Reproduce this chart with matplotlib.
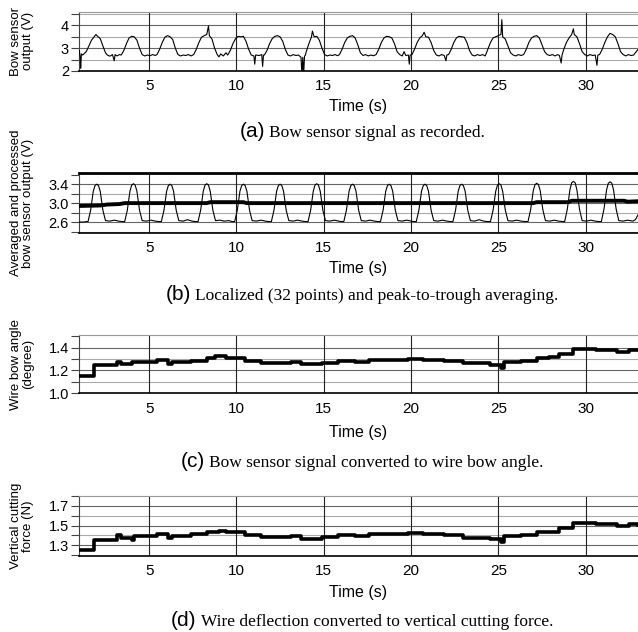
import matplotlib
matplotlib.use("Agg")
import matplotlib.pyplot as plt
from matplotlib import font_manager

# ---- data ----
# (a) raw bow sensor signal (V)
t_a = [1.00, 1.05, 1.08, 1.12, 1.20, 1.30, 1.40, 1.55, 1.70, 1.85, 1.95, 2.05, 2.20, 2.35, 2.50, 2.60,
       2.75, 2.90, 3.00, 3.05, 3.15, 3.30, 3.40,
       3.55, 3.70, 3.85, 4.00, 4.15, 4.30, 4.45, 4.60, 4.75, 4.90, 5.05, 5.20, 5.35, 5.45,
       5.60, 5.75, 5.90, 6.05, 6.20, 6.35, 6.50, 6.65, 6.80, 6.95, 7.10, 7.25, 7.40, 7.55,
       7.70, 7.85, 8.00, 8.15, 8.30, 8.40, 8.45, 8.60, 8.75, 8.90, 9.00, 9.10, 9.25, 9.40, 9.50,
       9.65, 9.80, 9.95, 10.10, 10.25, 10.40, 10.55, 10.70, 10.85, 11.00, 11.05, 11.10, 11.30, 11.45, 11.50, 11.55, 11.60,
       11.75, 11.90, 12.05, 12.20, 12.35, 12.50, 12.65, 12.80, 12.95, 13.10, 13.25, 13.40, 13.55, 13.70, 13.75, 13.80, 13.85, 13.90, 13.95,
       14.00, 14.15, 14.30, 14.35, 14.45, 14.60, 14.75, 14.90, 15.05, 15.20, 15.35, 15.50, 15.65, 15.80, 15.90,
       16.05, 16.20, 16.35, 16.50, 16.65, 16.80, 16.95, 17.10, 17.25, 17.40, 17.55, 17.70, 17.85, 18.00,
       18.15, 18.30, 18.45, 18.60, 18.75, 18.90, 19.05, 19.20, 19.35, 19.50, 19.60, 19.70, 19.85, 19.90, 19.95, 20.05,
       20.20, 20.35, 20.50, 20.65, 20.75, 20.85, 21.00, 21.15, 21.30, 21.45, 21.60, 21.75, 21.90, 22.00, 22.05, 22.15,
       22.30, 22.45, 22.60, 22.75, 22.90, 23.05, 23.20, 23.35, 23.50, 23.65, 23.80, 23.95, 24.10, 24.25,
       24.40, 24.55, 24.70, 24.85, 25.00, 25.15, 25.20, 25.25, 25.40, 25.55, 25.70, 25.85, 26.00, 26.15, 26.30, 26.45,
       26.60, 26.75, 26.90, 27.05, 27.20, 27.35, 27.50, 27.65, 27.80, 27.95, 28.10, 28.25, 28.40, 28.50, 28.60, 28.65,
       28.75, 28.90, 29.05, 29.20, 29.30, 29.35, 29.50, 29.65, 29.80, 29.95, 30.10, 30.25, 30.40, 30.55, 30.65, 30.70, 30.80,
       30.95, 31.10, 31.25, 31.40, 31.55, 31.70, 31.85, 32.00, 32.15, 32.30, 32.45, 32.60, 32.75, 32.90, 33.00]
v_a = [2.90, 2.60, 2.12, 2.75, 2.70, 2.78, 2.85, 3.10, 3.35, 3.50, 3.60, 3.52, 3.42, 3.10, 2.80, 2.70,
       2.65, 2.72, 2.45, 2.72, 2.66, 2.72, 2.70,
       2.90, 3.20, 3.45, 3.52, 3.50, 3.35, 3.00, 2.72, 2.66, 2.70, 2.67, 2.72, 2.68, 2.72,
       2.95, 3.25, 3.48, 3.55, 3.50, 3.38, 3.00, 2.72, 2.66, 2.70, 2.68, 2.72, 2.66, 2.72,
       2.95, 3.25, 3.48, 3.55, 3.60, 3.98, 3.55, 3.40, 3.00, 2.72, 2.62, 2.75, 2.66, 2.80, 2.70,
       2.90, 3.20, 3.42, 3.52, 3.50, 3.52, 3.30, 2.95, 2.70, 2.66, 2.30, 2.70, 2.68, 2.72, 2.20, 2.70, 2.70,
       2.90, 3.20, 3.42, 3.52, 3.55, 3.50, 3.30, 2.95, 2.70, 2.66, 2.72, 2.68, 2.70, 2.60, 1.80, 2.60, 1.85, 2.65, 2.70,
       2.85, 3.20, 3.50, 3.75, 3.50, 3.52, 3.35, 3.00, 2.72, 2.66, 2.70, 2.68, 2.72, 2.67, 2.72,
       2.95, 3.25, 3.45, 3.52, 3.55, 3.45, 3.15, 2.80, 2.68, 2.72, 2.66, 2.70, 2.67, 2.72,
       2.95, 3.25, 3.45, 3.52, 3.50, 3.45, 3.20, 2.85, 2.72, 2.66, 2.85, 2.68, 2.70, 2.30, 2.70, 2.72,
       2.95, 3.25, 3.45, 3.55, 3.70, 3.50, 3.48, 3.25, 2.90, 2.70, 2.66, 2.72, 2.68, 2.45, 2.70, 2.72,
       2.95, 3.25, 3.45, 3.52, 3.50, 3.48, 3.25, 2.90, 2.70, 2.66, 2.72, 2.68, 2.72, 2.66,
       2.95, 3.25, 3.45, 3.50, 3.55, 3.60, 4.25, 3.50, 3.40, 3.10, 2.80, 2.70, 2.66, 2.72, 2.68, 2.72,
       2.95, 3.25, 3.45, 3.52, 3.55, 3.45, 3.15, 2.85, 2.72, 2.68, 2.72, 2.66, 2.72, 2.68, 2.35, 2.70,
       2.95, 3.25, 3.45, 3.60, 3.85, 3.60, 3.50, 3.20, 2.85, 2.72, 2.66, 2.72, 2.68, 2.70, 2.25, 2.70, 2.72,
       2.95, 3.25, 3.50, 3.65, 3.60, 3.50, 3.20, 2.85, 2.72, 2.66, 2.72, 2.68, 2.70, 2.85, 2.95]

# (b) localized average (thin) and peak-to-trough average (thick), V
t_b = [1.00, 1.25, 1.40,
       1.50, 1.65, 1.80, 1.90, 2.00, 2.10, 2.20, 2.35, 2.50, 2.75, 3.00, 3.25, 3.45,
       3.60, 3.75, 3.90, 4.00, 4.10, 4.20, 4.30, 4.45, 4.60, 4.85, 5.10, 5.35, 5.55,
       5.70, 5.85, 6.00, 6.10, 6.20, 6.30, 6.40, 6.55, 6.70, 6.95, 7.20, 7.45, 7.65,
       7.80, 7.95, 8.10, 8.20, 8.30, 8.40, 8.50, 8.65, 8.80, 9.05, 9.30, 9.55, 9.75,
       9.90, 10.05, 10.20, 10.30, 10.40, 10.50, 10.60, 10.75, 10.90, 11.15, 11.40, 11.65, 11.85,
       12.00, 12.15, 12.30, 12.40, 12.50, 12.60, 12.70, 12.85, 13.00, 13.25, 13.50, 13.75, 13.95,
       14.10, 14.25, 14.40, 14.50, 14.60, 14.70, 14.80, 14.95, 15.10, 15.35, 15.60, 15.85, 16.00,
       16.15, 16.30, 16.45, 16.55, 16.65, 16.75, 16.85, 17.00, 17.15, 17.40, 17.65, 17.90, 18.10,
       18.25, 18.40, 18.55, 18.65, 18.75, 18.85, 18.95, 19.10, 19.25, 19.50, 19.75, 20.00, 20.15,
       20.30, 20.45, 20.60, 20.70, 20.80, 20.90, 21.00, 21.15, 21.30, 21.55, 21.80, 22.05, 22.25,
       22.40, 22.55, 22.70, 22.80, 22.90, 23.00, 23.10, 23.25, 23.40, 23.65, 23.90, 24.15, 24.40,
       24.55, 24.70, 24.85, 24.95, 25.05, 25.15, 25.25, 25.40, 25.55, 25.80, 26.05, 26.30, 26.55,
       26.70, 26.85, 27.00, 27.10, 27.20, 27.30, 27.40, 27.55, 27.70, 27.95, 28.20, 28.45, 28.70,
       28.80, 28.95, 29.10, 29.20, 29.30, 29.40, 29.50, 29.65, 29.80, 30.05, 30.30, 30.55, 30.75,
       30.90, 31.05, 31.20, 31.30, 31.40, 31.50, 31.60, 31.75, 31.90, 32.15, 32.40, 32.70, 32.85, 33.00]
v_b = [2.60, 2.60, 2.61,
       2.61, 2.85, 3.25, 3.37, 3.40, 3.37, 3.25, 2.85, 2.63, 2.62, 2.64, 2.62, 2.61,
       2.61, 2.85, 3.25, 3.38, 3.41, 3.38, 3.25, 2.85, 2.63, 2.62, 2.64, 2.62, 2.61,
       2.61, 2.85, 3.25, 3.37, 3.40, 3.37, 3.25, 2.85, 2.63, 2.62, 2.65, 2.62, 2.61,
       2.61, 2.85, 3.25, 3.38, 3.41, 3.38, 3.25, 2.85, 2.63, 2.64, 2.62, 2.63, 2.61,
       2.61, 2.85, 3.25, 3.37, 3.40, 3.37, 3.25, 2.85, 2.63, 2.62, 2.64, 2.62, 2.61,
       2.61, 2.85, 3.25, 3.37, 3.40, 3.37, 3.25, 2.85, 2.63, 2.62, 2.64, 2.62, 2.61,
       2.61, 2.85, 3.25, 3.38, 3.41, 3.38, 3.25, 2.85, 2.63, 2.62, 2.64, 2.62, 2.61,
       2.61, 2.85, 3.25, 3.37, 3.40, 3.37, 3.25, 2.85, 2.63, 2.62, 2.64, 2.62, 2.61,
       2.61, 2.85, 3.25, 3.37, 3.40, 3.37, 3.25, 2.85, 2.63, 2.62, 2.64, 2.62, 2.61,
       2.61, 2.85, 3.25, 3.37, 3.40, 3.37, 3.25, 2.85, 2.63, 2.62, 2.64, 2.62, 2.61,
       2.61, 2.85, 3.25, 3.37, 3.40, 3.37, 3.25, 2.85, 2.63, 2.62, 2.65, 2.62, 2.61,
       2.61, 2.85, 3.25, 3.38, 3.41, 3.38, 3.25, 2.85, 2.63, 2.62, 2.64, 2.62, 2.61,
       2.61, 2.86, 3.26, 3.39, 3.42, 3.39, 3.26, 2.86, 2.63, 2.62, 2.64, 2.62, 2.61,
       2.61, 2.87, 3.28, 3.43, 3.46, 3.43, 3.28, 2.87, 2.63, 2.62, 2.64, 2.62, 2.61,
       2.61, 2.87, 3.28, 3.42, 3.45, 3.42, 3.28, 2.87, 2.63, 2.62, 2.64, 2.62, 2.65, 2.75]
t_avg = [1.0, 2.2, 2.6, 3.3, 3.6, 8.3, 8.5, 10.4, 10.6, 27.0, 27.2, 29.0, 29.2, 32.2, 32.4, 33.0]
v_avg = [2.94, 2.95, 2.97, 2.98, 3.00, 3.00, 3.02, 3.02, 3.00, 3.00, 3.02, 3.02, 3.05, 3.05, 3.03, 3.04]

# (c) wire bow angle (degree), step starts
t_c = [1.0, 1.85, 3.15, 3.4, 4.0, 5.45, 6.1, 6.3, 7.4, 8.3, 8.8, 9.4, 10.5, 11.4, 13.1, 13.7,
       14.9, 15.8, 16.8, 17.6, 19.8, 20.7, 21.9, 23.0, 24.5, 25.15, 25.3, 26.3, 27.2, 27.9,
       28.5, 29.3, 30.6, 31.8, 32.5, 33.0]
v_c = [1.153, 1.244, 1.275, 1.253, 1.27, 1.288, 1.26, 1.27, 1.285, 1.31, 1.322, 1.31, 1.28,
       1.265, 1.27, 1.253, 1.265, 1.28, 1.27, 1.29, 1.30, 1.29, 1.28, 1.262, 1.25, 1.225, 1.27,
       1.28, 1.306, 1.32, 1.34, 1.39, 1.38, 1.36, 1.375, 1.375]

# (d) vertical cutting force (N), step starts
t_d = [1.0, 1.85, 3.15, 3.4, 4.0, 4.15, 5.45, 6.1, 6.3, 7.4, 8.3, 9.0, 9.4, 10.5, 11.4, 13.1,
       13.7, 14.9, 15.8, 16.8, 17.6, 19.8, 20.7, 21.9, 23.0, 24.5, 25.15, 25.3, 26.3, 27.2,
       28.5, 29.3, 30.6, 31.8, 32.5, 33.0]
v_d = [1.25, 1.35, 1.40, 1.37, 1.35, 1.39, 1.41, 1.37, 1.39, 1.41, 1.43, 1.445, 1.435, 1.40,
       1.38, 1.39, 1.365, 1.38, 1.40, 1.39, 1.41, 1.425, 1.415, 1.40, 1.375, 1.365, 1.335, 1.39,
       1.40, 1.435, 1.47, 1.53, 1.52, 1.49, 1.515, 1.51]

x_ticks = [5, 10, 15, 20, 25, 30]
ylabels = ["Bow sensor\noutput (V)", "Averaged and processed\nbow sensor output (V)",
           "Wire bow angle\n(degree)", "Vertical cutting\nforce (N)"]
ylims = [(2.0, 4.6), (2.375, 3.63), (1.0, 1.51), (1.19, 1.80)]
major = [[2, 3, 4], [2.6, 3.0, 3.4], [1.0, 1.2, 1.4], [1.3, 1.5, 1.7]]
minor = [[2.5, 3.5, 4.5], [2.4, 2.8, 3.2, 3.6], [1.1, 1.3, 1.5], [1.2, 1.4, 1.6, 1.8]]
tags = ["(a)", "(b)", "(c)", "(d)"]
captions = ["Bow sensor signal as recorded.",
            "Localized (32 points) and peak-to-trough averaging.",
            "Bow sensor signal converted to wire bow angle.",
            "Wire deflection converted to vertical cutting force."]

# ---- layout (pixels) ----
W, H = 638, 632
names = {f.name for f in font_manager.fontManager.ttflist}
narrow = "Liberation Sans Narrow" if "Liberation Sans Narrow" in names else "Liberation Sans"
sans = "Liberation Sans"
serif = "Liberation Serif"

axes_px = [(11.7, 71.0), (173.3, 232.7), (335.0, 393.3), (496.0, 556.0)]
time_y = [107, 268, 432, 593]
cap_y = [137, 300, 467, 626]

fig = plt.figure(figsize=(W / 100, H / 100), dpi=100)
axs = []
for top, bot in axes_px:
    ax = fig.add_axes([79.3 / W, 1 - bot / H, 1 - 79.3 / W, (bot - top) / H])
    axs.append(ax)

for i, ax in enumerate(axs):
    ax.set_xlim(1, 33)
    ax.set_ylim(*ylims[i])
    ax.set_xticks(x_ticks)
    ax.set_yticks(major[i])
    ax.set_yticks(minor[i], minor=True)
    ax.set_yticklabels([("%g" % v) if i == 0 else ("%.1f" % v) for v in major[i]],
                       fontsize=10.5, family=sans)
    ax.set_xticklabels([str(v) for v in x_ticks], fontsize=11, family=narrow)
    ax.tick_params(axis="x", length=0, pad=6)
    ax.tick_params(axis="y", which="both", length=6, width=0.8, color="#444",
                   direction="out", pad=1.5)
    for v in major[i] + minor[i]:
        if ylims[i][0] + 0.02 < v < ylims[i][1] - 0.05:
            ax.axhline(v, color="#666" if v in major[i] else "#aaa", lw=0.8, zorder=1)
    for v in x_ticks:
        ax.axvline(v, color="#222", lw=0.8, zorder=1)
    ax.spines["right"].set_visible(False)
    ax.spines["left"].set_color("#444")
    ax.spines["bottom"].set_color("black")
    ax.spines["bottom"].set_linewidth(1.2)
    ax.spines["top"].set_color("#999")
    fig.text(22 / W, 1 - (axes_px[i][0] + axes_px[i][1]) / 2 / H, ylabels[i],
             rotation=90, ha="center", va="center", multialignment="center",
             fontsize=9.5, family=sans, linespacing=1.1)
    fig.text(358 / W, 1 - time_y[i] / H, "Time (s)", ha="center", va="center",
             fontsize=11.5, family=narrow)

axs[1].spines["top"].set_color("black")
axs[1].spines["top"].set_linewidth(2)

axs[0].plot(t_a, v_a, color="black", lw=0.8, zorder=3)
axs[1].plot(t_b, v_b, color="black", lw=0.8, zorder=3)
axs[1].plot(t_avg, v_avg, color="black", lw=2.8, zorder=4)
axs[2].plot(t_c, v_c, color="black", lw=2.6, drawstyle="steps-post", zorder=3)
axs[3].plot(t_d, v_d, color="black", lw=2.6, drawstyle="steps-post", zorder=3)

# captions: sans tag + serif text, centred under the axes
pairs = []
for i in range(4):
    t1 = fig.text(0, 1 - cap_y[i] / H, tags[i], fontsize=15, family=narrow, va="baseline")
    t2 = fig.text(0, 1 - cap_y[i] / H, captions[i], fontsize=12.5, family=serif, va="baseline")
    pairs.append((t1, t2))
fig.canvas.draw()
r = fig.canvas.get_renderer()
for t1, t2 in pairs:
    w1 = t1.get_window_extent(r).width
    w2 = t2.get_window_extent(r).width
    x0 = 362 - (w1 + 4 + w2) / 2
    t1.set_x(x0 / W)
    t2.set_x((x0 + w1 + 4) / W)

fig.savefig("out.png", dpi=100)
